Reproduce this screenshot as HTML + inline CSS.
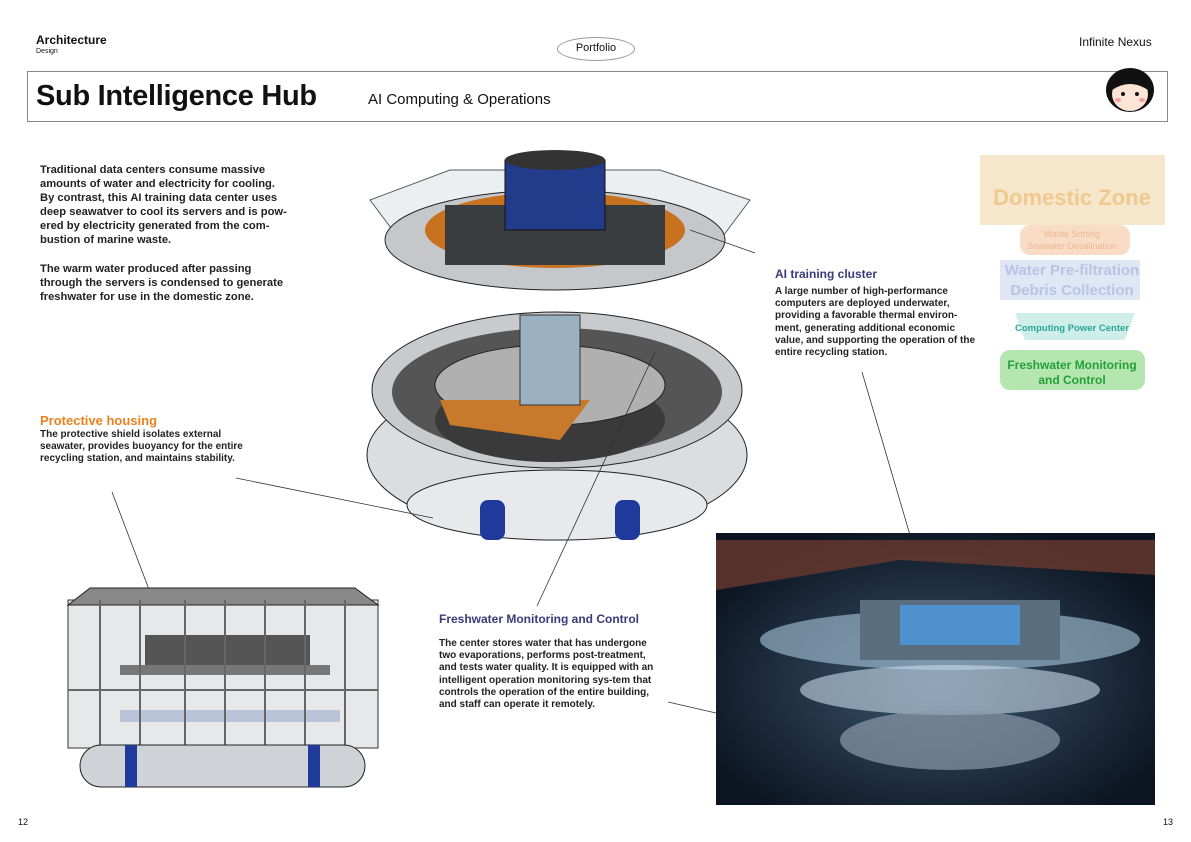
<!DOCTYPE html>
<html><head><meta charset="utf-8"><style>
body{margin:0;width:1191px;height:842px;background:#fff;position:relative;overflow:hidden;font-family:"Liberation Sans",sans-serif;color:#111}
.a{position:absolute}
p{margin:0}
.t{font-size:11.2px;line-height:14.1px;font-weight:bold;color:#222}
.s{font-size:10px;line-height:12.2px;font-weight:bold;color:#222}
</style></head><body>
<div class="a" style="left:36px;top:33px;font-size:12px;font-weight:bold">Architecture</div>
<div class="a" style="left:36px;top:48px;font-size:7px">Design</div>
<div class="a" style="left:557px;top:37px;width:76px;height:22px;border:1px solid #999;border-radius:50%;text-align:center;font-size:11px;line-height:21px">Portfolio</div>
<div class="a" style="left:1079px;top:35px;font-size:12px">Infinite Nexus</div>
<div class="a" style="left:27px;top:71px;width:1139px;height:49px;border:1px solid #888"></div>
<div class="a" style="left:36px;top:80px;font-size:29px;font-weight:bold;letter-spacing:-0.3px">Sub Intelligence Hub</div>
<div class="a" style="left:368px;top:91px;font-size:15px">AI Computing &amp; Operations</div>
<svg class="a" style="left:1102px;top:62px" width="56" height="54"><ellipse cx="28" cy="28" rx="24" ry="22" fill="#111"/><ellipse cx="28" cy="32" rx="18" ry="17" fill="#fde5d6"/><path d="M10 22 Q28 6 46 22 L46 28 Q28 16 10 28Z" fill="#111"/><circle cx="21" cy="32" r="2" fill="#111"/><circle cx="35" cy="32" r="2" fill="#111"/><ellipse cx="16" cy="38" rx="3" ry="2" fill="#f5a0a0"/><ellipse cx="40" cy="38" rx="3" ry="2" fill="#f5a0a0"/></svg>

<div class="a t" style="left:40px;top:163px;width:250px">Traditional data centers consume massive amounts of water and electricity for cooling. By contrast, this AI training data center uses deep seawatver to cool its servers and is pow-ered by electricity generated from the com-bustion of marine waste.<br><br>The warm water produced after passing through the servers is condensed to generate freshwater for use in the domestic zone.</div>

<div class="a" style="left:40px;top:413px;font-size:13px;font-weight:bold;color:#e8821e">Protective housing</div>
<div class="a s" style="left:40px;top:429px;width:205px">The protective shield isolates external seawater, provides buoyancy for the entire recycling station, and maintains stability.</div>

<div class="a" style="left:775px;top:267px;font-size:12px;font-weight:bold;color:#3a3a7a">AI training cluster</div>
<div class="a s" style="left:775px;top:286px;width:200px">A large number of high-performance computers are deployed underwater, providing a favorable thermal environ-ment, generating additional economic value, and supporting the operation of the entire recycling station.</div>

<div class="a" style="left:439px;top:612px;font-size:12px;font-weight:bold;color:#3a3a7a">Freshwater Monitoring and Control</div>
<div class="a s" style="left:439px;top:638px;width:222px">The center stores water that has undergone two evaporations, performs post-treatment, and tests water quality. It is equipped with an intelligent operation monitoring sys-tem that controls the operation of the entire building, and staff can operate it remotely.</div>

<!-- right stack -->
<svg class="a" style="left:975px;top:145px" width="200" height="250">
<rect x="5" y="10" width="185" height="70" fill="#f6e6cc"/><text x="97" y="60" font-size="22" font-weight="bold" fill="#efc98e" text-anchor="middle">Domestic Zone</text>
<rect x="45" y="80" width="110" height="30" rx="10" fill="#f8dcc6"/><text x="97" y="92" font-size="9" fill="#f0b795" text-anchor="middle">Waste Sorting</text><text x="97" y="104" font-size="9" fill="#f0b795" text-anchor="middle">Seawater Desalination</text>
<rect x="25" y="115" width="140" height="40" fill="#dfe6f4"/><text x="97" y="130" font-size="15" font-weight="bold" fill="#b8c4e4" text-anchor="middle">Water Pre-filtration</text><text x="97" y="150" font-size="15" font-weight="bold" fill="#b8c4e4" text-anchor="middle">Debris Collection</text>
<path d="M40 168 L160 168 L150 195 L50 195Z" fill="#cfeeea"/><text x="97" y="186" font-size="9.5" font-weight="bold" fill="#2aa59a" text-anchor="middle">Computing Power Center</text>
<rect x="25" y="205" width="145" height="40" rx="10" fill="#b6e6b0"/><text x="97" y="224" font-size="12" font-weight="bold" fill="#23a03a" text-anchor="middle">Freshwater Monitoring</text><text x="97" y="239" font-size="12" font-weight="bold" fill="#23a03a" text-anchor="middle">and Control</text>
</svg>

<!-- main render -->
<svg class="a" style="left:0;top:0" width="1191" height="842">
<ellipse cx="557" cy="455" rx="190" ry="80" fill="#dcdde0" stroke="#222"/>
<ellipse cx="557" cy="505" rx="150" ry="35" fill="#e8e9ec" stroke="#222"/>
<ellipse cx="557" cy="390" rx="185" ry="78" fill="#c9cacd" stroke="#222"/>
<ellipse cx="557" cy="392" rx="165" ry="64" fill="#555"/>
<ellipse cx="550" cy="420" rx="115" ry="42" fill="#3a3a3a"/>
<ellipse cx="550" cy="385" rx="115" ry="40" fill="#b0b0b0" stroke="#222"/>
<path d="M440 400 L590 400 L560 440 L450 425Z" fill="#c87a2c"/>
<rect x="520" y="315" width="60" height="90" fill="#9bb0c0" stroke="#333"/>
<path d="M370 200 L450 170 L660 170 L750 200 L720 240 L400 240Z" fill="#e8ecef" stroke="#333" opacity="0.8"/>
<ellipse cx="555" cy="240" rx="170" ry="50" fill="#c5c7ca" stroke="#222"/>
<ellipse cx="555" cy="230" rx="130" ry="38" fill="#c8711f"/>
<rect x="445" y="205" width="220" height="60" fill="#3a3d40"/>
<rect x="505" y="160" width="100" height="70" fill="#223b8a" stroke="#111"/>
<ellipse cx="555" cy="160" rx="50" ry="10" fill="#333"/>
<rect x="480" y="500" width="25" height="40" rx="8" fill="#1f3a9a"/><rect x="615" y="500" width="25" height="40" rx="8" fill="#1f3a9a"/>
<g stroke="#333" fill="none" stroke-width="0.8">
<line x1="236" y1="478" x2="433" y2="518"/>
<line x1="112" y1="492" x2="153" y2="600"/>
<line x1="537" y1="606" x2="655" y2="352"/>
<line x1="862" y1="372" x2="910" y2="535"/>
<line x1="755" y1="253" x2="690" y2="230"/>
<line x1="668" y1="702" x2="716" y2="713"/>
</g>
<!-- lower-left render -->
<rect x="68" y="600" width="310" height="148" fill="#e6e8ea" stroke="#333"/>
<path d="M90 588 L355 588 L378 605 L68 605Z" fill="#888" stroke="#222"/>
<rect x="145" y="635" width="165" height="30" fill="#555"/>
<rect x="120" y="665" width="210" height="10" fill="#777"/>
<rect x="120" y="710" width="220" height="12" fill="#b9c4d8"/>
<g stroke="#666" stroke-width="2"><line x1="100" y1="600" x2="100" y2="748"/><line x1="140" y1="600" x2="140" y2="748"/><line x1="185" y1="600" x2="185" y2="748"/><line x1="225" y1="600" x2="225" y2="748"/><line x1="265" y1="600" x2="265" y2="748"/><line x1="305" y1="600" x2="305" y2="748"/><line x1="345" y1="600" x2="345" y2="748"/><line x1="68" y1="690" x2="378" y2="690"/></g>
<rect x="80" y="745" width="285" height="42" rx="21" fill="#cfd2d6" stroke="#222"/>
<rect x="125" y="745" width="12" height="42" fill="#1f3a9a"/><rect x="308" y="745" width="12" height="42" fill="#1f3a9a"/>
<!-- dark photo -->
<defs><radialGradient id="g" cx="0.5" cy="0.55" r="0.6"><stop offset="0" stop-color="#3d5570"/><stop offset="1" stop-color="#0b1420"/></radialGradient></defs>
<rect x="716" y="533" width="439" height="272" fill="url(#g)"/>
<path d="M716 540 L1155 540 L1155 575 L900 560 L716 590Z" fill="#6a3a30" opacity="0.8"/>
<ellipse cx="950" cy="640" rx="190" ry="30" fill="#aac8dd" opacity="0.6"/>
<rect x="860" y="600" width="200" height="60" fill="#5a6e80"/>
<rect x="900" y="605" width="120" height="40" fill="#4aa0f0" opacity="0.7"/>
<ellipse cx="950" cy="690" rx="150" ry="25" fill="#c8dcea" opacity="0.6"/>
<ellipse cx="950" cy="740" rx="110" ry="30" fill="#8a9aa8" opacity="0.7"/>
</svg>
<div class="a" style="left:18px;top:817px;font-size:9px">12</div>
<div class="a" style="left:1163px;top:817px;font-size:9px">13</div>
</body></html>
